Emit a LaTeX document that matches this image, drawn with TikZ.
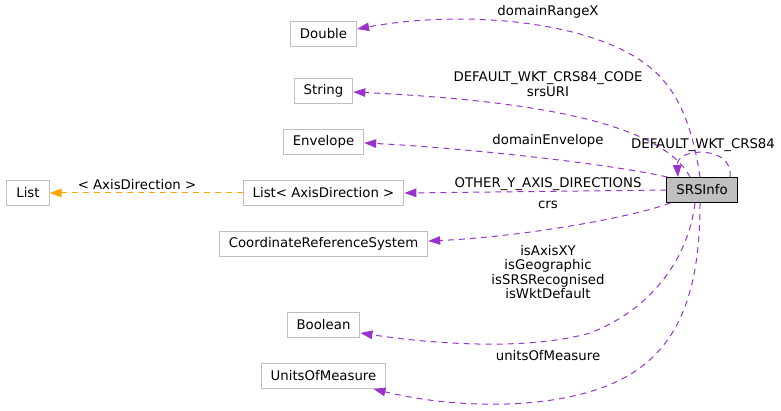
\documentclass[tikz,border=0pt]{standalone}
\usepackage{fontspec}
\setmainfont{DejaVu Sans}
\usetikzlibrary{arrows.meta}
\definecolor{EdgePurple}{RGB}{154,50,205}
\definecolor{EdgeOrange}{RGB}{255,165,0}
\definecolor{BoxGray}{RGB}{191,191,191}

\begin{document}
\begin{tikzpicture}[x=1pt,y=-1pt,font=\fontsize{13.3}{14.6}\selectfont,
	cls/.style={draw=BoxGray,line width=1pt,minimum height=25pt,inner xsep=9.5pt,inner ysep=0pt},
	mainbox/.style={cls,draw=black,fill=BoxGray},
	rel/.style={EdgePurple,line width=1pt,dash pattern=on 6pt off 5pt,-{Triangle[length=12pt,width=8.5pt]}},
	tmpl/.style={rel,EdgeOrange},
	lbl/.style={inner sep=0pt,align=center}]
\useasboundingbox (0,0) rectangle (781,411);
\node[mainbox] (srs) at (702,190){SRSInfo};
\node[cls] (dbl) at (323.5,34){Double};
\node[cls] (str) at (323.5,91){String};
\node[cls] (env) at (323.5,142){Envelope};
\node[cls] (axlist) at (323.5,193){List< AxisDirection >};
\node[cls] (list) at (28,193){List};
\node[cls] (crs) at (323.5,244){CoordinateReferenceSystem};
\node[cls] (bool) at (323.5,325){Boolean};
\node[cls] (uom) at (323.5,376){UnitsOfMeasure};

\draw[rel] ([xshift=-2pt]srs.north) .. controls (690,110) and (670,80) .. (640,60)
	.. controls (580,20) and (460,10) .. ([yshift=5pt]dbl.east);
\node[lbl] (lblRange) at (548,12){domainRangeX};
\draw[rel] ([xshift=-12pt]srs.north) .. controls (660,120) and (520,100) .. ([yshift=-1pt]str.east);
\node[lbl] (lblCode) at (548,84){DEFAULT\_WKT\_CRS84\_CODE\\srsURI};
\draw[rel] ([xshift=1pt]srs.north west) .. controls (600,162) and (450,147) .. ([yshift=-1pt]env.east);
\node[lbl] (lblEnv) at (548,141){domainEnvelope};
\draw[rel] ([xshift=28pt]srs.north) .. controls ([xshift=32pt,yshift=32pt]srs.north)
	and ([xshift=-26pt,yshift=30pt]srs.north) .. ([xshift=-24pt]srs.north);
\node[lbl] (lblSelf) at (703,145){DEFAULT\_WKT\_CRS84};
\draw[rel] (srs.west) -- (axlist.east);
\node[lbl] (lblDirs) at (548,184){OTHER\_Y\_AXIS\_DIRECTIONS};
\draw[tmpl] (axlist.west) -- (list.east);
\node[lbl] (lblTmpl) at (137,185){< AxisDirection >};
\draw[rel] ([xshift=4pt]srs.south west) .. controls (630,218) and (520,237) .. ([yshift=3pt]crs.east);
\node[lbl] (lblCrs) at (548,205){crs};
\draw[rel] ([xshift=-7pt]srs.south) .. controls (688,260) and (650,310) .. (590,333)
	.. controls (530,350) and (440,345) .. ([yshift=-8pt]bool.east);
\node[lbl] (lblBool) at (548,272){isAxisXY\\isGeographic\\isSRSRecognised\\isWktDefault};
\draw[rel] ([xshift=-2pt]srs.south) .. controls (700,290) and (680,350) .. (620,380)
	.. controls (560,410) and (460,410) .. ([xshift=50pt]uom.south);
\node[lbl] (lblUom) at (548,356){unitsOfMeasure};
\end{tikzpicture}
\end{document}
